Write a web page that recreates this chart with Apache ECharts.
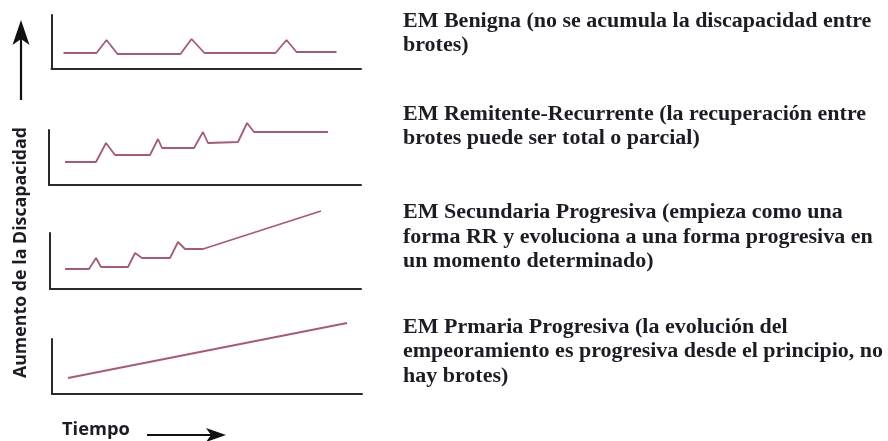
<!DOCTYPE html>
<html>
<head>
<meta charset="utf-8">
<script src="https://cdn.jsdelivr.net/npm/echarts@6/dist/echarts.min.js"></script>
<style>html,body{margin:0;padding:0;background:#fff}#c{width:888px;height:441px}</style>
</head>
<body>
<div id="c"></div>
<script>
// Time (x) and disability (y) values for each course type, in axis units
var benignaX = [12, 45, 55, 66, 129, 140, 153, 224, 235, 245, 285];
var benignaY = [16, 16, 29, 15, 15, 30, 16, 16, 29, 17, 17];

var remitenteX = [16, 47, 57, 66, 101, 109, 113, 145, 154, 159, 189, 198, 205, 279];
var remitenteY = [23, 23, 42, 30, 30, 46, 37, 37, 53, 42, 43, 62, 53, 53];

var secundariaX = [15, 39, 46, 51, 78, 85, 92, 120, 128, 135, 153, 271];
var secundariaY = [20, 20, 31, 22, 22, 36, 31, 31, 47, 40, 40, 78];

var primariaX = [16, 295];
var primariaY = [16, 71];

var descriptions = [
  ["EM Benigna (no se acumula la discapacidad entre", "brotes)"],
  ["EM Remitente-Recurrente (la recuperación entre", "brotes puede ser total o parcial)"],
  ["EM Secundaria Progresiva (empieza como una", "forma RR y evoluciona a una forma progresiva en", "un momento determinado)"],
  ["EM Prmaria Progresiva (la evolución del", "empeoramiento es progresiva desde el principio, no", "hay brotes)"]
];
var yAxisTitle = "Aumento de la Discapacidad";
var xAxisTitle = "Tiempo";

function pairs(xs, ys) { return xs.map(function (x, i) { return [x, ys[i]]; }); }

var seriesData = [pairs(benignaX, benignaY), pairs(remitenteX, remitenteY), pairs(secundariaX, secundariaY), pairs(primariaX, primariaY)];

// layout of each small panel (pixels)
var panels = [
  {left: 51.5, top: 15, width: 309.5, height: 54},
  {left: 49, top: 130, width: 312, height: 55},
  {left: 50, top: 233, width: 311, height: 56},
  {left: 52, top: 339, width: 310, height: 55}
];
var textCenters = [21.5, 114.5, 213, 327.5];
var lineGap = 24.5;

var grids = [], xAxes = [], yAxes = [], series = [];
panels.forEach(function (p, i) {
  grids.push({left: p.left, top: p.top, width: p.width, height: p.height, containLabel: false});
  var axisCommon = {
    type: 'value', min: 0, gridIndex: i,
    axisLine: {show: true, onZero: false, lineStyle: {color: '#2a2a2a', width: 2}},
    axisTick: {show: false}, axisLabel: {show: false}, splitLine: {show: false}
  };
  xAxes.push(Object.assign({}, axisCommon, {max: p.width}));
  yAxes.push(Object.assign({}, axisCommon, {max: p.height}));
  series.push({
    type: 'line', xAxisIndex: i, yAxisIndex: i, data: seriesData[i],
    symbol: 'none', clip: false, silent: true, animation: false,
    lineStyle: {color: '#a85a72', width: 1.8}
  });
});

var graphics = [];
descriptions.forEach(function (lines, i) {
  lines.forEach(function (t, j) {
    graphics.push({
      type: 'text', x: 403, y: textCenters[i] + j * lineGap, scaleX: 1.1, scaleY: 1,
      style: {text: t, font: 'bold 20px "Liberation Serif"', fill: '#1c1c24', align: 'left', verticalAlign: 'middle'}
    });
  });
});
// y title (rotated)
graphics.push({
  type: 'text', x: 21, y: 252.5, rotation: Math.PI / 2,
  style: {text: yAxisTitle, font: 'bold 17.8px "Open Sans"', fill: '#1c1c24', align: 'center', verticalAlign: 'middle'}
});
// x title
graphics.push({
  type: 'text', x: 62, y: 430, style: {text: xAxisTitle, font: 'bold 18.3px "Open Sans"', fill: '#1c1c24', align: 'left', verticalAlign: 'middle'}
});
// up arrow
graphics.push({type: 'line', shape: {x1: 21, y1: 100, x2: 21, y2: 32}, style: {stroke: '#111', lineWidth: 2.2}});
graphics.push({type: 'polygon', shape: {points: [[21, 20], [29.5, 45], [21, 39], [12.5, 45]]}, style: {fill: '#111'}});
// right arrow
graphics.push({type: 'line', shape: {x1: 147, y1: 435, x2: 214, y2: 435}, style: {stroke: '#111', lineWidth: 2.2}});
graphics.push({type: 'polygon', shape: {points: [[226, 435], [206, 428], [211, 435], [206, 442]]}, style: {fill: '#111'}});

var chart = echarts.init(document.getElementById('c'), null, {renderer: 'canvas'});
chart.setOption({
  animation: false,
  backgroundColor: '#ffffff',
  grid: grids, xAxis: xAxes, yAxis: yAxes, series: series,
  graphic: graphics
});
</script>
</body>
</html>
